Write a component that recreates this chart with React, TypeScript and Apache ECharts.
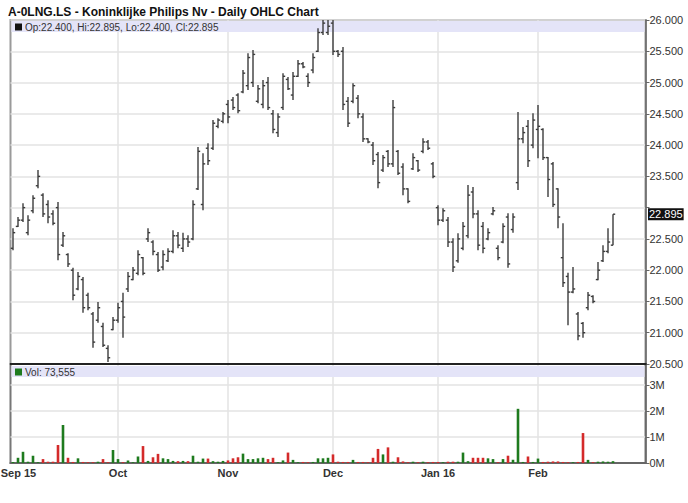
import React, { useEffect, useRef } from 'react';
import * as echarts from 'echarts';

// Trading days per month (Sep 2015 - Feb 2016)
const sepDays = [2, 3, 4, 7, 8, 9, 10, 11, 14, 15, 16, 17, 18, 21, 22, 23, 24, 25, 28, 29, 30];
const octDays = [1, 2, 5, 6, 7, 8, 9, 12, 13, 14, 15, 16, 19, 20, 21, 22, 23, 26, 27, 28, 29, 30];
const novDays = [2, 3, 4, 5, 6, 9, 10, 11, 12, 13, 16, 17, 18, 19, 20, 23, 24, 25, 26, 27, 30];
const decDays = [1, 2, 3, 4, 7, 8, 9, 10, 11, 14, 15, 16, 17, 18, 21, 22, 23, 24, 28, 29, 30];
const janDays = [4, 5, 6, 7, 8, 11, 12, 13, 14, 15, 18, 19, 20, 21, 22, 25, 26, 27, 28, 29];
const febDays = [1, 2, 3, 4, 5, 8, 9, 10, 11, 12, 15, 16, 17, 18, 19, 22];
const padDays = ['2016-02-23', '2016-02-24', '2016-02-25', '2016-02-26', '2016-02-29', '2016-03-01'];

const tickDates = ['2015-09-02', '2015-10-01', '2015-11-02', '2015-12-01', '2016-01-04', '2016-02-01'];
const tickLabels = ['Sep 15', 'Oct', 'Nov', 'Dec', 'Jan 16', 'Feb'];

const opens = [
  22.35, 22.7, 22.8, 22.6, 22.95, 23.35, 23.2, 23.05, 22.9, 23.0,
  22.4, 22.25, 22.0, 21.7, 21.85, 21.6, 21.3, 21.2, 21.1, 20.75,
  21.05, 21.2, 21.5, 21.7, 21.85, 21.95, 22.2, 22.5, 22.45, 22.25,
  22.05, 22.15, 22.3, 22.55, 22.35, 22.5, 22.5, 23.3, 23.05, 23.95,
  23.95, 24.3, 24.38, 24.65, 24.72, 24.8, 24.85, 24.95, 25.0, 24.7,
  24.65, 25.0, 24.5, 24.2, 24.6, 25.05, 24.8, 25.1, 25.3, 25.1,
  25.2, 25.5, 25.8, 25.8, 25.95, 25.5, 25.5, 24.7, 24.7, 24.75,
  24.45, 24.1, 24.0, 23.85, 23.6, 23.9, 23.7, 23.9, 23.65, 23.3,
  23.62, 23.75, 23.9, 24.05, 23.7, 23.0, 22.8, 22.8, 22.45, 22.15,
  22.35, 22.55, 23.25, 22.9, 22.7, 22.5, 22.9, 22.35, 22.45, 22.85,
  22.65, 23.4, 24.1, 24.3, 24.0, 24.25, 24.25, 23.8, 23.7, 23.3,
  22.2, 21.9, 21.65, 21.3, 21.15, 21.4, 21.58, 21.85, 22.15, 22.3,
  22.4,
];
const highs = [
  22.67, 22.85, 23.07, 22.88, 23.2, 23.6, 23.23, 23.12, 22.96, 23.09,
  22.61, 22.27, 22.04, 21.97, 21.89, 21.64, 21.33, 21.49, 21.16, 20.8,
  21.25, 21.48, 21.64, 21.97, 22.05, 22.32, 22.21, 22.67, 22.48, 22.29,
  22.32, 22.35, 22.64, 22.61, 22.6, 22.56, 23.12, 23.97, 23.87, 24.03,
  24.4, 24.43, 24.53, 24.72, 24.77, 24.83, 25.2, 25.47, 25.52, 24.96,
  25.04, 25.09, 24.56, 24.51, 25.15, 25.09, 25.17, 25.36, 25.33, 25.15,
  25.47, 25.87, 26.0, 26.0, 26.0, 25.52, 25.57, 24.77, 24.99, 24.8,
  24.51, 24.11, 24.05, 23.89, 23.84, 23.92, 24.72, 23.92, 23.71, 23.31,
  23.87, 23.76, 24.11, 24.08, 23.73, 23.04, 22.99, 22.85, 22.51, 22.59,
  22.77, 23.36, 23.33, 22.96, 22.77, 22.67, 23.01, 22.4, 22.75, 22.91,
  22.91, 24.53, 24.29, 24.4, 24.51, 24.64, 24.27, 23.81, 23.73, 23.31,
  22.75, 21.96, 22.05, 21.33, 21.17, 21.65, 21.6, 22.13, 22.4, 22.67,
  22.895,
];
const lows = [
  22.32, 22.69, 22.77, 22.56, 22.91, 23.31, 22.85, 22.75, 22.72, 22.16,
  22.37, 22.05, 21.52, 21.68, 21.32, 21.36, 20.76, 21.16, 20.77, 20.53,
  21.04, 21.16, 20.92, 21.65, 21.84, 21.92, 21.92, 22.45, 22.24, 21.97,
  22.0, 22.13, 22.27, 22.35, 22.29, 22.37, 22.48, 23.28, 22.96, 23.68,
  23.92, 24.27, 24.35, 24.35, 24.56, 24.51, 24.83, 24.88, 24.93, 24.67,
  24.59, 24.56, 24.19, 24.13, 24.56, 24.88, 24.72, 25.09, 25.23, 24.93,
  25.15, 25.49, 25.76, 25.76, 25.44, 25.41, 24.56, 24.29, 24.67, 24.43,
  24.05, 24.03, 23.68, 23.31, 23.57, 23.65, 23.65, 23.52, 23.2, 23.07,
  23.6, 23.57, 23.87, 23.92, 23.47, 22.72, 22.77, 22.37, 21.97, 22.12,
  22.32, 22.51, 22.83, 22.32, 22.27, 22.48, 22.88, 22.16, 22.43, 22.04,
  22.6, 23.28, 24.03, 23.65, 23.95, 23.79, 23.76, 23.17, 23.01, 22.67,
  21.73, 21.12, 21.63, 20.88, 20.92, 21.36, 21.47, 21.84, 22.13, 22.27,
  22.4,
];
const closes = [
  22.6, 22.8, 23.0, 22.8, 23.15, 23.5, 22.9, 22.85, 22.75, 22.25,
  22.55, 22.1, 21.6, 21.9, 21.4, 21.4, 20.85, 21.4, 20.8, 20.6,
  21.2, 21.4, 21.25, 21.9, 22.0, 22.25, 21.95, 22.6, 22.3, 22.0,
  22.25, 22.3, 22.55, 22.4, 22.5, 22.45, 23.05, 23.9, 23.7, 23.75,
  24.35, 24.4, 24.5, 24.45, 24.6, 24.55, 25.15, 25.4, 25.45, 24.9,
  24.95, 24.6, 24.25, 24.45, 25.1, 24.9, 25.1, 25.3, 25.25, 25.0,
  25.4, 25.8, 25.95, 25.9, 25.5, 25.45, 24.65, 24.35, 24.95, 24.5,
  24.1, 24.05, 23.75, 23.4, 23.8, 23.7, 24.6, 23.55, 23.3, 23.1,
  23.8, 23.6, 24.05, 23.95, 23.5, 22.8, 22.95, 22.45, 22.05, 22.5,
  22.7, 23.2, 22.9, 22.4, 22.35, 22.6, 22.95, 22.2, 22.7, 22.1,
  22.85, 24.1, 24.2, 23.75, 24.4, 24.3, 23.8, 23.45, 23.05, 22.85,
  21.8, 21.65, 21.7, 20.95, 21.0, 21.6, 21.5, 22.0, 22.3, 22.45,
  22.895,
];
// volume in millions of shares
const volumes = [
  0.04, 0.2, 0.43, 0.05, 0.28, 0.03, 0.15, 0.05, 0.05, 0.69,
  1.46, 0.2, 0.04, 0.18, 0.04, 0.03, 0.03, 0.05, 0.15, 0.03,
  0.5, 0.15, 0.03, 0.1, 0.03, 0.25, 0.65, 0.08, 0.22, 0.35,
  0.18, 0.15, 0.08, 0.07, 0.08, 0.07, 0.28, 0.05, 0.17, 0.17,
  0.07, 0.05, 0.08, 0.1, 0.18, 0.22, 0.36, 0.15, 0.15, 0.18,
  0.2, 0.15, 0.2, 0.03, 0.1, 0.4, 0.12, 0.03, 0.04, 0.03,
  0.04, 0.18, 0.18, 0.2, 0.33, 0.05, 0.04, 0.04, 0.12, 0.04,
  0.04, 0.03, 0.2, 0.54, 0.33, 0.6, 0.05, 0.22, 0.06, 0.03,
  0.05, 0.03, 0.05, 0.03, 0.04, 0.04, 0.03, 0.05, 0.05, 0.05,
  0.4, 0.07, 0.2, 0.2, 0.2, 0.18, 0.15, 0.03, 0.15, 0.28,
  0.12, 2.08, 0.04, 0.25, 0.04, 0.17, 0.04, 0.05, 0.06, 0.06,
  0.04, 0.03, 0.03, 0.04, 1.15, 0.12, 0.03, 0.05, 0.06, 0.05,
  0.07,
];
const lastVolumeText = '73,555';

const pad = (n: number) => (n < 10 ? '0' + n : '' + n);
const categories: string[] = [
  ...sepDays.map((d) => `2015-09-${pad(d)}`),
  ...octDays.map((d) => `2015-10-${pad(d)}`),
  ...novDays.map((d) => `2015-11-${pad(d)}`),
  ...decDays.map((d) => `2015-12-${pad(d)}`),
  ...janDays.map((d) => `2016-01-${pad(d)}`),
  ...febDays.map((d) => `2016-02-${pad(d)}`),
  ...padDays,
];

const FONT = '"Liberation Sans", Arial, sans-serif';
const GREEN = '#1e7b1e';
const RED = '#d42a2a';
const BAR = '#3c3c3c';
const BAND = '#e4e4f8';
const GRIDC = '#e3e3e3';
const AXIS = '#666';

export default function App() {
  const ref = useRef<HTMLDivElement>(null);
  useEffect(() => {
    if (!ref.current) return;
    const chart = echarts.init(ref.current, undefined, { renderer: 'svg' });
    const n = closes.length;
    const lastIdx = n - 1;
    const last = closes[lastIdx];
    const ohlc = closes.map((c, i) => [i, opens[i], highs[i], lows[i], c]);
    const vol = volumes.map((v, i) => ({
      value: v,
      itemStyle: { color: closes[i] >= opens[i] ? GREEN : RED },
    }));
    const labelMap: Record<string, string> = {};
    tickDates.forEach((d, i) => (labelMap[d] = tickLabels[i]));
    const vIdx = tickDates.slice(1).map((d) => [categories.indexOf(d)]);

    const gridL = 10.5;
    const gridR = 688 - 645.5;

    const vGrid = (xi: number, yi: number, top: number, bottom: number) => ({
      type: 'custom',
      xAxisIndex: xi,
      yAxisIndex: yi,
      z: 1,
      silent: true,
      encode: { x: 0 },
      data: vIdx,
      renderItem: (params: any, api: any) => {
        const a = api.coord([api.value(0), top]);
        const b = api.coord([api.value(0), bottom]);
        return {
          type: 'line',
          shape: { x1: a[0], y1: a[1], x2: b[0], y2: b[1] },
          style: { stroke: GRIDC, lineWidth: 1.5 },
        };
      },
    });

    const labelText = { color: '#333', fontSize: 11, fontWeight: 'bold', fontFamily: FONT };

    const option: any = {
      animation: false,
      backgroundColor: '#fff',
      textStyle: { fontFamily: FONT },
      title: {
        text: 'A-0LNG.LS - Koninklijke Philips Nv - Daily OHLC Chart',
        left: 3,
        top: 1,
        textStyle: { fontSize: 12, fontWeight: 'bold', color: '#111', fontFamily: FONT },
      },
      grid: [
        { left: gridL, right: gridR, top: 20, height: 344, show: true, borderColor: '#9a9a9a', borderWidth: 2, backgroundColor: 'transparent', outerBoundsMode: 'none', containLabel: false },
        { left: gridL, right: gridR, top: 364, height: 99, show: true, borderColor: '#777', borderWidth: 2, backgroundColor: 'transparent', outerBoundsMode: 'none', containLabel: false },
      ],
      xAxis: [
        {
          type: 'category',
          gridIndex: 0,
          data: categories,
          boundaryGap: true,
          axisLine: { show: false },
          axisTick: { show: false },
          axisLabel: { show: false },
          splitLine: { show: false },
        },
        {
          type: 'category',
          gridIndex: 1,
          data: categories,
          boundaryGap: true,
          axisLine: { show: true, lineStyle: { color: AXIS, width: 2 } },
          axisTick: { show: false },
          axisLabel: {
            show: true,
            interval: (i: number, v: string) => labelMap[v] !== undefined,
            formatter: (v: string) =>
              v === tickDates[0] ? `{first|${labelMap[v]}}` : `{m|${labelMap[v] || ''}}`,
            rich: {
              first: { ...labelText, padding: [0, 0, 0, 11] },
              m: { ...labelText },
            },
            ...labelText,
            margin: 4,
          },
          splitLine: { show: false },
        },
      ],
      yAxis: [
        {
          type: 'value',
          gridIndex: 0,
          position: 'right',
          min: 20.5,
          max: 26,
          interval: 0.5,
          axisLine: { show: true, lineStyle: { color: AXIS, width: 1.5 } },
          axisTick: { show: true, length: 4, lineStyle: { color: AXIS } },
          axisLabel: {
            color: '#333',
            fontSize: 11,
            fontFamily: FONT,
            margin: 4,
            formatter: (v: number) => (Math.abs(v - last) < 0.16 ? '' : v.toFixed(3)),
          },
          splitLine: { show: true, lineStyle: { color: GRIDC, width: 1.5 } },
        },
        {
          type: 'value',
          gridIndex: 1,
          position: 'right',
          min: 0,
          max: 3.8,
          interval: 1,
          axisLine: { show: true, lineStyle: { color: AXIS, width: 1.5 } },
          axisTick: { show: true, length: 4, lineStyle: { color: AXIS } },
          axisLabel: {
            color: '#333',
            fontSize: 11,
            fontFamily: FONT,
            margin: 4,
            showMaxLabel: false,
            formatter: (v: number) => `${v}M`,
          },
          splitLine: { show: true, lineStyle: { color: GRIDC, width: 1.5 } },
        },
      ],
      series: [
        vGrid(0, 0, 26, 20.5),
        vGrid(1, 1, 3.8, 0),
        {
          type: 'custom',
          xAxisIndex: 0,
          yAxisIndex: 0,
          z: 5,
          clip: true,
          encode: { x: 0, y: [1, 2, 3, 4] },
          data: ohlc,
          renderItem: (params: any, api: any) => {
            const i = api.value(0);
            const o = api.coord([i, api.value(1)]);
            const h = api.coord([i, api.value(2)]);
            const l = api.coord([i, api.value(3)]);
            const c = api.coord([i, api.value(4)]);
            const x = o[0];
            const style = { stroke: BAR, lineWidth: 1.4 };
            return {
              type: 'group',
              children: [
                { type: 'line', shape: { x1: x, y1: h[1], x2: x, y2: l[1] }, style },
                { type: 'line', shape: { x1: x - 2.2, y1: o[1], x2: x, y2: o[1] }, style },
                { type: 'line', shape: { x1: x, y1: c[1], x2: x + 2.2, y2: c[1] }, style },
              ],
            };
          },
        },
        {
          type: 'bar',
          xAxisIndex: 1,
          yAxisIndex: 1,
          barWidth: 2.6,
          data: vol,
          z: 5,
        },
      ],
    };
    chart.setOption(option);

    const py = chart.convertToPixel({ yAxisIndex: 0 } as any, last) as unknown as number;
    chart.setOption({
      graphic: [
        { type: 'rect', z: 1, shape: { x: 11.5, y: 21, width: 633, height: 11 }, style: { fill: BAND } },
        { type: 'rect', z: 1, shape: { x: 11.5, y: 366, width: 633, height: 11 }, style: { fill: BAND } },
        { type: 'rect', z: 20, shape: { x: 15, y: 23.5, width: 7, height: 7 }, style: { fill: '#111' } },
        {
          type: 'text', z: 20, x: 25, y: 27,
          style: { text: `Op:${opens[lastIdx].toFixed(3)}, Hi:${highs[lastIdx].toFixed(3)}, Lo:${lows[lastIdx].toFixed(3)}, Cl:${last.toFixed(3)}`, fill: '#333', font: `10px ${FONT}`, verticalAlign: 'middle' },
        },
        { type: 'rect', z: 20, shape: { x: 15, y: 368.5, width: 7, height: 7 }, style: { fill: GREEN } },
        {
          type: 'text', z: 20, x: 25, y: 372,
          style: { text: `Vol: ${lastVolumeText}`, fill: '#333', font: `10px ${FONT}`, verticalAlign: 'middle' },
        },
        { type: 'line', z: 30, shape: { x1: 10, y1: 364, x2: 646.5, y2: 364 }, style: { stroke: '#222', lineWidth: 2.2 } },
        {
          type: 'text', z: 30, x: 648, y: py,
          style: {
            text: last.toFixed(3), fill: '#fff', font: `11px ${FONT}`, verticalAlign: 'middle',
            backgroundColor: '#111', padding: [1, 1, 0, 1],
          },
        },
      ],
    });
    return () => chart.dispose();
  }, []);
  return <div ref={ref} style={{ position: 'absolute', left: 0, top: 0, width: 688, height: 503 }} />;
}
